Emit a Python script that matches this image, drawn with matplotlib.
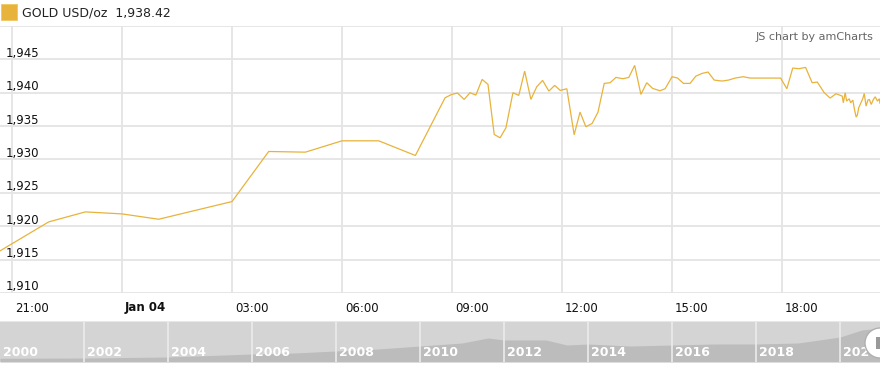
import numpy as np
import matplotlib
matplotlib.use("Agg")
import matplotlib.pyplot as plt
from matplotlib import transforms
from matplotlib.patches import Rectangle, Circle

# Gold spot price, hours relative to Jan 04 00:00
hours = [-3.33, -2.0, -1.0, 0.0, 1.0, 3.0, 4.0, 5.0, 6.0, 7.0, 8.0,
         8.81, 8.99, 9.15, 9.33, 9.49, 9.65, 9.82, 9.98, 10.15, 10.31, 10.47,
         10.66, 10.82, 10.98, 11.15, 11.31, 11.47, 11.64, 11.80, 11.95, 12.13,
         12.33, 12.49, 12.65, 12.82, 12.98, 13.15, 13.31, 13.47, 13.66, 13.82,
         13.98, 14.15, 14.31, 14.47, 14.67, 14.81, 15.0, 15.15, 15.31, 15.49,
         15.65, 15.82, 15.98, 16.15, 16.36, 16.54, 16.72, 16.94, 17.13, 17.40,
         17.67, 17.96, 18.13, 18.29, 18.46, 18.64, 18.82, 18.96, 19.15, 19.31,
         19.47, 19.64, 19.67, 19.72, 19.76, 19.83, 19.87, 19.93, 19.97, 20.02,
         20.05, 20.09, 20.15, 20.20, 20.24, 20.29, 20.34, 20.38, 20.43, 20.49,
         20.54, 20.60, 20.65, 20.67]
prices = [1916.3, 1920.65, 1922.15, 1921.85, 1921.05, 1923.7, 1931.2, 1931.1, 1932.8, 1932.8, 1930.6,
          1939.25, 1939.75, 1939.95, 1939.0, 1940.0, 1939.65, 1942.0, 1941.25, 1933.75, 1933.25, 1934.75,
          1940.0, 1939.6, 1943.25, 1939.0, 1940.9, 1941.85, 1940.25, 1941.1, 1940.35, 1940.6,
          1933.7, 1937.1, 1934.9, 1935.4, 1937.1, 1941.4, 1941.5, 1942.3, 1942.1, 1942.3,
          1944.1, 1939.75, 1941.5, 1940.65, 1940.3, 1940.6, 1942.4, 1942.2, 1941.4, 1941.4,
          1942.5, 1942.9, 1943.1, 1941.9, 1941.75, 1941.9, 1942.2, 1942.4, 1942.2, 1942.2,
          1942.2, 1942.2, 1940.6, 1943.7, 1943.6, 1943.8, 1941.5, 1941.6, 1940.0, 1939.2,
          1939.85, 1939.5, 1938.5, 1940.0, 1938.75, 1939.1, 1938.5, 1938.9, 1937.6, 1936.35,
          1936.6, 1937.75, 1938.5, 1939.1, 1939.9, 1938.0, 1938.9, 1939.0, 1938.25, 1939.0,
          1939.4, 1938.75, 1939.1, 1938.42]

x_ticks = [-3, 0, 3, 6, 9, 12, 15, 18]
x_labels = ["21:00", "Jan 04", "03:00", "06:00", "09:00", "12:00", "15:00", "18:00"]
y_ticks = [1910, 1915, 1920, 1925, 1930, 1935, 1940, 1945]

scroll_years = [2000, 2002, 2004, 2006, 2007, 2008, 2009, 2010, 2011, 2011.62, 2012, 2013,
                2013.5, 2014, 2015, 2016, 2017, 2018, 2019, 2019.67, 2020, 2020.52, 2020.95]
scroll_level = [3.7, 4, 5, 8, 9, 11, 13, 16, 19, 24, 22, 22,
                17, 18, 16, 17, 18, 18, 19, 23, 25, 32, 34]
scroll_labels = ["2000", "2002", "2004", "2006", "2008", "2010", "2012", "2014", "2016", "2018", "2020"]

gold = "#E8B33A"
grid_c = "#e4e4e4"
plt.rcParams['font.family'] = ["DejaVu Sans"]

W, H = 880, 369
fig = plt.figure(figsize=(W / 100, H / 100), dpi=100)

# main plot
ax = fig.add_axes([0, (H - 293) / H, 1, (293 - 26) / H])
ax.set_xlim(-3.327, 20.67)
ax.set_ylim(1910, 1950)
for s in ax.spines.values():
    s.set_visible(False)
ax.set_xticks([])
ax.set_yticks([])
for yv in y_ticks + [1950]:
    ax.axhline(yv, color=grid_c, lw=1.3, zorder=1)
for xv in x_ticks:
    ax.axvline(xv, color=grid_c, lw=1.3, zorder=1)
ax.plot(hours, prices, color=gold, lw=0.9, zorder=3, solid_joinstyle="miter")

ytr = transforms.blended_transform_factory(ax.transAxes, ax.transData)
for yv in y_ticks:
    ax.text(6 / W, yv, f"{yv:,}", transform=ytr + transforms.ScaledTranslation(0, 6 / 100, fig.dpi_scale_trans),
            fontsize=8.5, color="#111", ha="left", va="center", zorder=4)

xtr = transforms.blended_transform_factory(ax.transData, ax.transAxes)
for xv, lab in zip(x_ticks, x_labels):
    ax.text(xv, 0, lab, transform=xtr + transforms.ScaledTranslation(3 / 100, -15 / 100, fig.dpi_scale_trans),
            fontsize=8.5, color="#111", ha="left", va="center",
            fontweight="bold" if lab.startswith("Jan") else "normal")

# scrollbar
sb = fig.add_axes([0, (H - 362) / H, 1, 41 / H])
sb.set_facecolor("#d4d4d4")
sb.set_xlim(2000, 2000 + W / 42)
sb.set_ylim(0, 41)
sb.fill_between(scroll_years, 0, scroll_level, color="#bcbcbc", lw=0, zorder=1)
for s in sb.spines.values():
    s.set_visible(False)
sb.set_xticks([])
sb.set_yticks([])
for i, lab in enumerate(scroll_labels):
    yr = 2000 + 2 * i
    if i > 0:
        sb.axvline(yr, color="#ececec", lw=1.2, zorder=2)
    sb.text(yr + 3 / 42, 10, lab, color="white", fontsize=9, fontweight="bold",
            ha="left", va="center", zorder=3)
sb.axhline(41, color="#e8e8e8", lw=1.5)

# overlay in pixel coordinates: legend, credit, grip
ov = fig.add_axes([0, 0, 1, 1])
ov.set_xlim(0, W)
ov.set_ylim(H, 0)
ov.axis("off")
ov.patch.set_alpha(0)
ov.add_patch(Rectangle((1, 4), 16, 16, facecolor=gold, edgecolor="#f0c860", lw=0.6))
ov.text(22, 12.5, "GOLD USD/oz  1,938.42", fontsize=9, color="#222", ha="left", va="center")
ov.text(873, 37, "JS chart by amCharts", fontsize=8, color="#666", ha="right", va="center")
ov.add_patch(Circle((880, 343), 15, facecolor="white", edgecolor="#b0b0b0", lw=1.0, zorder=5))
ov.add_patch(Rectangle((876, 337), 4, 12, facecolor="#999", edgecolor="none", zorder=6))

fig.savefig("out.png", dpi=100)
